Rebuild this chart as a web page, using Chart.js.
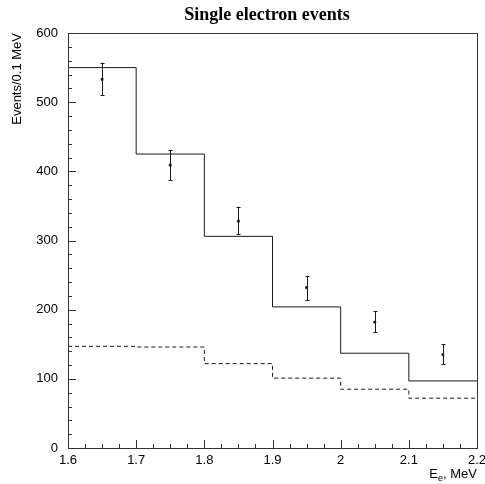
<!DOCTYPE html>
<html>
<head>
<meta charset="utf-8">
<script src="https://cdn.jsdelivr.net/npm/chart.js@4.4.1/dist/chart.umd.min.js"></script>
<style>
  html, body { margin: 0; padding: 0; background: #fff; }
  #wrap { width: 485px; height: 484px; }
</style>
</head>
<body>
<div id="wrap"><canvas id="chart" width="485" height="484"></canvas></div>
<script>
// histogram bins (left edges + final right edge), MeV
const binEdges = [1.6, 1.7, 1.8, 1.9, 2.0, 2.1, 2.2];
// expected total (solid) and background (dashed), events / 0.1 MeV
const totalCounts = [550, 425, 306, 204, 137, 97];
const bgCounts = [147, 146, 122, 101, 85, 72];
// measured points with error bars
const pointE = [1.65, 1.75, 1.85, 1.95, 2.05, 2.15];
const dataCounts = [533, 409, 328, 232, 182, 135];
const errLow = [510, 387, 309, 214, 167, 121];
const errHigh = [557, 431, 349, 249, 198, 150];
const xTickValues = [1.6, 1.7, 1.8, 1.9, 2.0, 2.1, 2.2];
const yTickValues = [0, 100, 200, 300, 400, 500, 600];

const INK = '#1a1a1a';
const SANS = '"Liberation Sans", Arial, sans-serif';

// step points: each bin edge takes the value of the bin on its right, last edge repeats
function steps(counts) {
    return binEdges.map((x, i) => ({ x: x, y: counts[Math.min(i, counts.length - 1)] }));
}

const framePlugin = {
    id: 'frame',
    afterDatasetsDraw(chart) {
        const ctx = chart.ctx;
        const xs = chart.scales.x, ys = chart.scales.y;
        const a = chart.chartArea;
        ctx.save();
        ctx.strokeStyle = INK;
        ctx.lineWidth = 1;

        // error bars
        pointE.forEach((e, i) => {
            const px = Math.round(xs.getPixelForValue(e)) + 0.5;
            const top = ys.getPixelForValue(errHigh[i]);
            const bot = ys.getPixelForValue(errLow[i]);
            ctx.beginPath();
            ctx.moveTo(px, top); ctx.lineTo(px, bot);
            ctx.moveTo(px - 2, Math.round(top) + 0.5); ctx.lineTo(px + 2, Math.round(top) + 0.5);
            ctx.moveTo(px - 2, Math.round(bot) + 0.5); ctx.lineTo(px + 2, Math.round(bot) + 0.5);
            ctx.stroke();
        });

        // box
        ctx.strokeStyle = '#333';
        ctx.strokeRect(Math.round(a.left) + 0.5, Math.round(a.top) + 0.5,
                       Math.round(a.right - a.left), Math.round(a.bottom - a.top));

        // inside ticks on left axis, minor every 20
        ctx.beginPath();
        for (let v = 0; v <= 600; v += 20) {
            const py = Math.round(ys.getPixelForValue(v)) + 0.5;
            const len = v % 100 === 0 ? 8 : 4;
            ctx.moveTo(a.left, py); ctx.lineTo(a.left + len, py);
        }
        // inside ticks on bottom axis, minor every 0.025
        for (let k = 0; k <= 24; k++) {
            const v = 1.6 + k * 0.025;
            const px = Math.round(xs.getPixelForValue(v)) + 0.5;
            const len = k % 4 === 0 ? 8 : 4;
            ctx.moveTo(px, a.bottom); ctx.lineTo(px, a.bottom - len);
        }
        ctx.stroke();
        ctx.restore();
    },
    afterDraw(chart) {
        const ctx = chart.ctx;
        const a = chart.chartArea;
        ctx.save();
        ctx.fillStyle = '#000';

        // title
        ctx.font = 'bold 18px "Liberation Serif", "Times New Roman", serif';
        ctx.textAlign = 'center';
        ctx.textBaseline = 'middle';
        ctx.fillText('Single electron events', 267, 15);

        // y axis title, rotated, ending at the top of the frame
        ctx.font = '13px ' + SANS;
        ctx.save();
        ctx.translate(17, a.top);
        ctx.rotate(-Math.PI / 2);
        ctx.textAlign = 'right';
        ctx.textBaseline = 'middle';
        ctx.fillText('Events/0.1 MeV', 0, 0);
        ctx.restore();

        // x axis title with subscript, right aligned to the frame
        const base = 478;
        ctx.textBaseline = 'alphabetic';
        ctx.textAlign = 'left';
        ctx.font = '13px ' + SANS;
        const wE = ctx.measureText('E').width;
        const wRest = ctx.measureText(', MeV').width;
        ctx.font = '9px ' + SANS;
        const wSub = ctx.measureText('e').width;
        let x0 = a.right - (wE + wSub + wRest);
        ctx.font = '13px ' + SANS;
        ctx.fillText('E', x0, base);
        ctx.font = '9px ' + SANS;
        ctx.fillText('e', x0 + wE, base + 3);
        ctx.font = '13px ' + SANS;
        ctx.fillText(', MeV', x0 + wE + wSub, base);
        ctx.restore();
    }
};

new Chart(document.getElementById('chart'), {
    type: 'line',
    data: {
        datasets: [{
            label: 'total',
            data: steps(totalCounts),
            stepped: 'before',
            borderColor: INK,
            borderWidth: 1,
            pointRadius: 0,
            fill: false
        }, {
            label: 'background',
            data: steps(bgCounts),
            stepped: 'before',
            borderColor: INK,
            borderWidth: 1,
            borderDash: [4, 3],
            pointRadius: 0,
            fill: false
        }, {
            label: 'data',
            type: 'scatter',
            data: pointE.map((e, i) => ({ x: e, y: dataCounts[i] })),
            pointStyle: 'rect',
            pointRadius: 1.5,
            backgroundColor: '#000',
            borderColor: '#000',
            borderWidth: 0.5,
            showLine: false
        }]
    },
    options: {
        responsive: false,
        animation: false,
        devicePixelRatio: 1,
        layout: { padding: { left: 0, right: 8, top: 33, bottom: 0 } },
        plugins: {
            legend: { display: false },
            title: { display: false },
            tooltip: { enabled: false }
        },
        scales: {
            x: {
                type: 'linear',
                min: 1.6,
                max: 2.2,
                afterBuildTicks: s => { s.ticks = xTickValues.map(v => ({ value: v })); },
                afterFit: s => { s.height = 36; s.paddingLeft = 0; s.paddingRight = 0; },
                grid: { display: false, drawTicks: false },
                border: { display: false },
                ticks: {
                    padding: 5,
                    color: '#000',
                    font: { family: SANS, size: 13 },
                    maxRotation: 0,
                    callback: v => String(+v.toFixed(1))
                }
            },
            y: {
                min: 0,
                max: 600,
                afterBuildTicks: s => { s.ticks = yTickValues.map(v => ({ value: v })); },
                afterFit: s => { s.width = 68; s.paddingTop = 0; s.paddingBottom = 0; },
                grid: { display: false, drawTicks: false },
                border: { display: false },
                ticks: {
                    padding: 10,
                    color: '#000',
                    font: { family: SANS, size: 13 }
                }
            }
        }
    },
    plugins: [framePlugin]
});
</script>
</body>
</html>
